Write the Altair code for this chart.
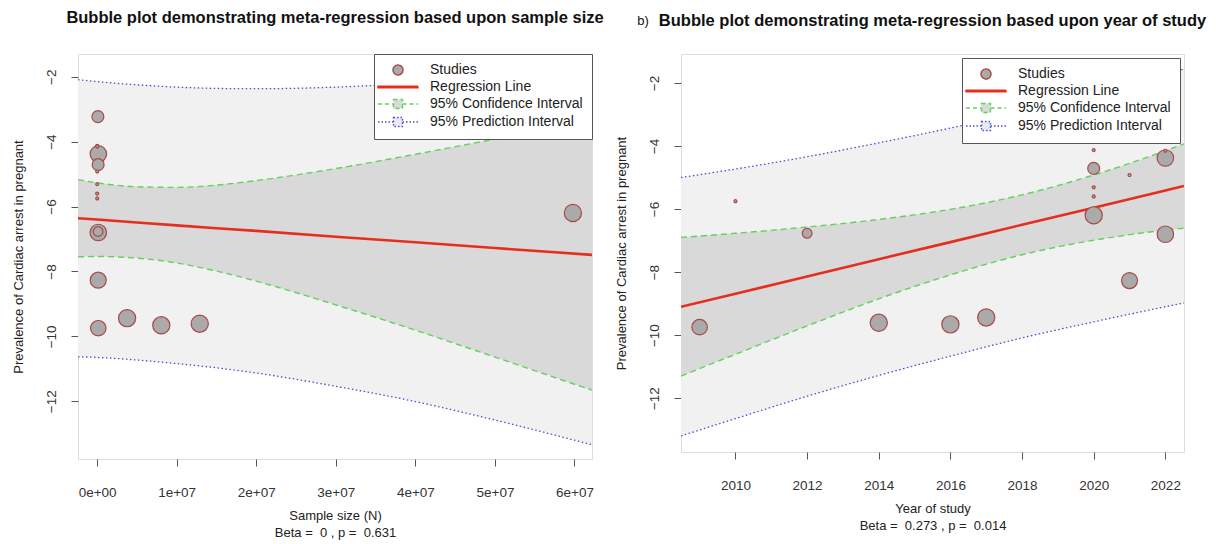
import altair as alt
import pandas as pd

FONT = "Liberation Sans"
NB = "\u00a0"

# ---------------- study-level data ----------------
study_year = [2009, 2010, 2012, 2014, 2016, 2017, 2020, 2020, 2020, 2020, 2020,
              2021, 2021, 2022, 2022, 2022, 2021]
sample_size = [150000, 20000, 120000, 12900000, 8070000, 3770000, 15000, 130000,
               12000, 10000, 59800000, 18000, 140000, 160000, 25000, 150000, 100000]
log_prev = [-9.75, -5.75, -6.77, -9.61, -9.66, -9.44, -4.13, -4.71, -5.31, -5.60,
            -6.20, -4.92, -8.27, -4.38, -4.15, -6.80, -3.23]
study_weight = [7.6, 0.28, 3.0, 9.4, 9.4, 9.4, 0.28, 4.5, 0.28, 0.28, 9.4,
                0.28, 8.1, 8.6, 0.28, 8.6, 4.5]

# ---------------- panel a: sample size ----------------
n_grid = [-2.4e6, 0, 5e6, 1e7, 1.5e7, 2e7, 3e7, 4e7, 5e7, 6.22e7]
n_fit = [-6.36, -6.40, -6.49, -6.58, -6.67, -6.75, -6.93, -7.10, -7.28, -7.49]
n_ci_lo = [-7.55, -7.54, -7.59, -7.74, -7.99, -8.30, -9.03, -9.81, -10.64, -11.66]
n_ci_hi = [-5.17, -5.27, -5.39, -5.41, -5.34, -5.20, -4.83, -4.39, -3.92, -3.32]
n_pi_lo = [-10.63, -10.65, -10.73, -10.84, -10.97, -11.13, -11.54, -12.01, -12.58, -13.34]
n_pi_hi = [-2.09, -2.15, -2.25, -2.32, -2.36, -2.37, -2.32, -2.19, -1.98, -1.64]
n_ticks = [0, 1e7, 2e7, 3e7, 4e7, 5e7, 6e7]
n_tick_labels = ["0e+00", "1e+07", "2e+07", "3e+07", "4e+07", "5e+07", "6e+07"]

# ---------------- panel b: year of study ----------------
yr_grid = [2008.48, 2010, 2012, 2014, 2016, 2018, 2020, 2022, 2022.52]
yr_fit = [-9.10, -8.69, -8.14, -7.59, -7.05, -6.50, -5.96, -5.41, -5.27]
yr_ci_lo = [-11.30, -10.61, -9.71, -8.85, -8.09, -7.45, -6.99, -6.67, -6.61]
yr_ci_hi = [-6.90, -6.77, -6.57, -6.33, -6.01, -5.55, -4.92, -4.15, -3.93]
yr_pi_lo = [-13.20, -12.65, -11.94, -11.28, -10.67, -10.09, -9.58, -9.10, -8.98]
yr_pi_hi = [-5.00, -4.73, -4.34, -3.90, -3.43, -2.91, -2.34, -1.72, -1.56]
yr_ticks = [2010, 2012, 2014, 2016, 2018, 2020, 2022]

y_ticks = [-12, -10, -8, -6, -4, -2]
legend_labels = ["Studies", "Regression Line", "95% Confidence Interval", "95% Prediction Interval"]
title_a = "Bubble plot demonstrating meta-regression based upon sample size"
title_b = "Bubble plot demonstrating meta-regression based upon year of study"
xtitle_a = ["Sample size (N)", f"Beta = {NB}0 , p = {NB}0.631"]
xtitle_b = ["Year of study", f"Beta = {NB}0.273 , p = {NB}0.014"]

RED = "#e62e1e"
GREEN = "#62d35a"
BLUE = "#4452cc"
BUB_FILL = "#aaaaaa"
BUB_STROKE = "#a84848"

SYM_CIRCLE = "M-1,0A1,1 0 1,0 1,0A1,1 0 1,0 -1,0Z"
SYM_LINE = "M-4,-0.14L4,-0.14L4,0.14L-4,0.14Z"
SYM_LINE_BOX = "M-4,0L-0.9,0M0.9,0L4,0M-0.9,-0.9L0.9,-0.9L0.9,0.9L-0.9,0.9Z"


def label_expr(values, labels):
    parts = [f"datum.value == {v} ? '{l}'" for v, l in zip(values, labels)]
    return " : ".join(parts) + " : ''"


def text_layer(txt, x, y, size, weight):
    return alt.Chart(pd.DataFrame({"t": [txt]})).mark_text(
        font=FONT, fontSize=size, fontWeight=weight, color="#111111",
        align="center", baseline="middle").encode(
        x=alt.value(x), y=alt.value(y), text="t:N")


def panel(gx, fit, ci_lo, ci_hi, pi_lo, pi_hi, px, x_dom, y_dom, x_ticks, x_lab_expr,
          x_title, title_layers, w, h, leg_offset):
    grid = pd.DataFrame({"x": gx, "fit": fit, "ci_lo": ci_lo, "ci_hi": ci_hi,
                         "pi_lo": pi_lo, "pi_hi": pi_hi})
    pts = pd.DataFrame({"x": px, "y": log_prev, "w": study_weight})
    pts = pts.sort_values("w", ascending=False).reset_index(drop=True)
    pts["o"] = range(len(pts))

    xs = alt.Scale(domain=x_dom, nice=False, zero=False)
    ys = alt.Scale(domain=y_dom, nice=False, zero=False)
    ax_kw = dict(domain=False, grid=False, tickSize=7, tickColor="#555555", tickWidth=1,
                 labelFont=FONT, labelFontSize=13.5, labelColor="#333333",
                 titleFont=FONT, titleFontSize=13, titleFontWeight="normal", titleColor="#222222")
    xax = alt.Axis(values=x_ticks, labelExpr=x_lab_expr, title=x_title, labelPadding=19,
                   titlePadding=11, titleLineHeight=17, labelFlush=False, labelOverlap=False, **ax_kw)
    yax = alt.Axis(values=y_ticks, title="Prevalence of Cardiac arrest in pregnant",
                   labelAngle=270, labelAlign="center", labelBaseline="bottom",
                   labelPadding=13, titlePadding=19, labelFlush=False, labelOverlap=False, **ax_kw)
    X = alt.X("x:Q", scale=xs, axis=xax)

    base = alt.Chart(grid)
    pi_area = base.mark_area(color="#f1f1f1", interpolate="monotone", clip=True).encode(
        x=X, y=alt.Y("pi_lo:Q", scale=ys, axis=yax), y2="pi_hi:Q")
    ci_area = base.mark_area(color="#d9d9d9", interpolate="monotone", clip=True).encode(
        x=X, y=alt.Y("ci_lo:Q", scale=ys, axis=yax), y2="ci_hi:Q")

    def bound_line(field, color, dash, sw):
        return base.mark_line(color=color, strokeDash=dash, strokeWidth=sw,
                              interpolate="monotone", clip=True).encode(
            x=X, y=alt.Y(f"{field}:Q", scale=ys, axis=yax))

    pi_l = bound_line("pi_lo", BLUE, [1.5, 2.5], 1.3)
    pi_h = bound_line("pi_hi", BLUE, [1.5, 2.5], 1.3)
    ci_l = bound_line("ci_lo", GREEN, [6, 4], 1.4)
    ci_h = bound_line("ci_hi", GREEN, [6, 4], 1.4)
    reg = base.mark_line(color=RED, strokeWidth=2.6, clip=True).encode(
        x=X, y=alt.Y("fit:Q", scale=ys, axis=yax))

    bubbles = alt.Chart(pts).mark_point(filled=True, fill=BUB_FILL, stroke=BUB_STROKE,
                                        strokeWidth=1.2, opacity=1, clip=True).encode(
        x=X, y=alt.Y("y:Q", scale=ys, axis=yax),
        size=alt.Size("w:Q", scale=alt.Scale(domain=[0, 9.4], range=[0, 296], zero=True), legend=None),
        order=alt.Order("o:Q"))

    leg = alt.Legend(title=None, orient="top-right", offset=leg_offset, fillColor="white",
                     strokeColor="#555555", padding=9, symbolSize=100, symbolStrokeWidth=1.4,
                     symbolOpacity=1, symbolOffset=8, labelOffset=25, labelFontSize=14,
                     labelFont=FONT, labelColor="#222222", labelLimit=400, rowPadding=2)
    legend_df = pd.DataFrame({"series": legend_labels})
    legend_layer = alt.Chart(legend_df).mark_point(filled=True, opacity=0, size=100).encode(
        fill=alt.Fill("series:N", sort=legend_labels,
                      scale=alt.Scale(domain=legend_labels,
                                      range=[BUB_FILL, RED, "#d9d9d9", "#e9e9f4"]), legend=leg),
        stroke=alt.Stroke("series:N", sort=legend_labels,
                          scale=alt.Scale(domain=legend_labels,
                                          range=[BUB_STROKE, RED, GREEN, BLUE]), legend=leg),
        shape=alt.Shape("series:N", sort=legend_labels,
                        scale=alt.Scale(domain=legend_labels,
                                        range=[SYM_CIRCLE, SYM_LINE, SYM_LINE_BOX, SYM_LINE_BOX]),
                        legend=leg),
        strokeDash=alt.StrokeDash("series:N", sort=legend_labels,
                                  scale=alt.Scale(domain=legend_labels,
                                                  range=[[1, 0], [1, 0], [4, 3], [1.5, 2]]),
                                  legend=leg),
    )

    layers = [pi_area, ci_area, pi_l, pi_h, ci_l, ci_h, reg, bubbles, legend_layer] + title_layers
    return alt.layer(*layers).properties(width=w, height=h)


left = panel(n_grid, n_fit, n_ci_lo, n_ci_hi, n_pi_lo, n_pi_hi, sample_size,
             [-2.4e6, 6.22e7], [-13.78, -1.3], n_ticks, label_expr(n_ticks, n_tick_labels),
             xtitle_a, [text_layer(title_a, 257, -36, 16.5, "bold")],
             514, 405, 0)

right = panel(yr_grid, yr_fit, yr_ci_lo, yr_ci_hi, yr_pi_lo, yr_pi_hi, study_year,
              [2008.48, 2022.52], [-13.71, -1.08], yr_ticks, "format(datum.value, 'd')",
              xtitle_b,
              [text_layer(title_b, 251.5, -33, 16.5, "bold"),
               text_layer("b)", -38, -33, 13, "normal")],
              503, 398, 4)

chart = alt.hconcat(left, right, spacing=89, bounds="flush").resolve_scale(
    fill="independent", stroke="independent", shape="independent",
    strokeDash="independent", size="independent"
).properties(
    padding={"left": 11, "top": 9, "right": 0, "bottom": 0}
).configure_view(stroke="#555555", strokeWidth=1).configure(background="white")

chart.save("out.html", embed_options={"renderer": "svg", "actions": False})
